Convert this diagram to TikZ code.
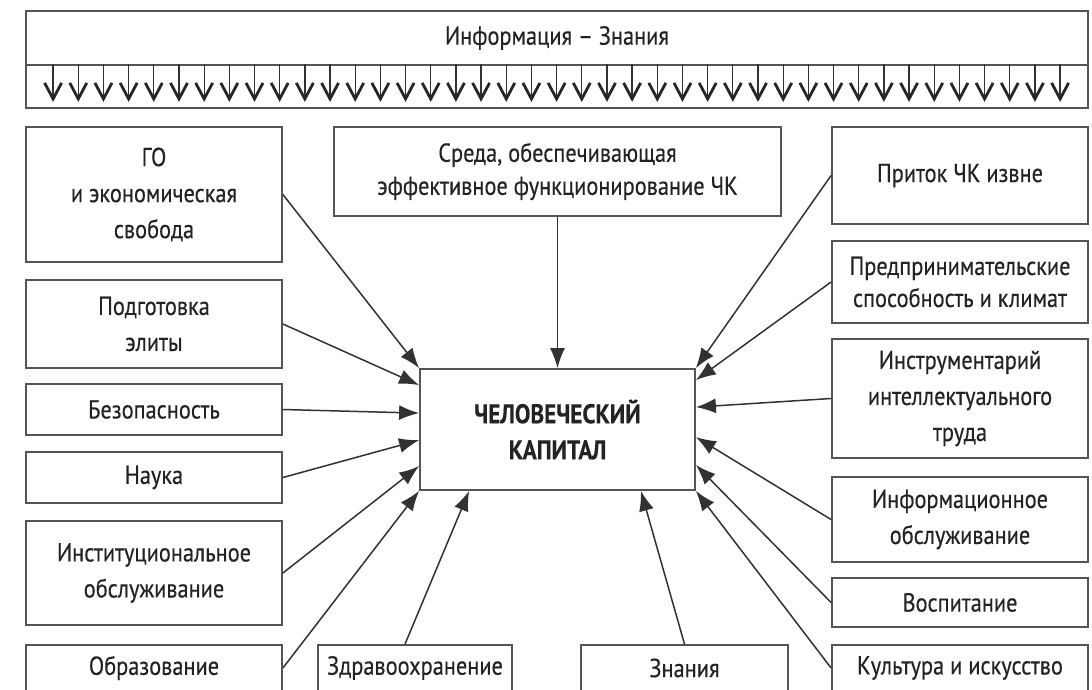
\documentclass[tikz,border=0pt]{standalone}
\usepackage{fontspec}
\setmainfont{PT Sans}[FakeStretch=0.86,FakeBold=0.35]
\usetikzlibrary{arrows.meta,calc}
\definecolor{boxgray}{RGB}{85,85,85}
\definecolor{linegray}{RGB}{50,50,50}
\definecolor{txtgray}{RGB}{35,35,35}
\begin{document}
\begin{tikzpicture}[x=1pt,y=-1pt,
  box/.style={draw=boxgray,line width=1.8pt,fill=white,inner sep=0pt,align=center,
    text=txtgray,font=\fontsize{26}{36}\selectfont},
  conn/.style={draw=linegray,line width=1.5pt,-{Latex[length=20pt,width=15pt]}},
  shaft/.style={draw=linegray,line width=1.3pt},
  vee/.style={draw=black!85,line width=2.8pt,line join=miter,line cap=butt}]
\useasboundingbox (0,0) rectangle (1092,689);
\fill[white] (0,0) rectangle (1092,689);
% banner
\node[box,minimum width=1062pt,minimum height=54pt] (info) at (557,38) {Информация – Знания};
\node[box,minimum width=1062pt,minimum height=43pt] (strip) at (557,86.5) {};
\foreach \i in {0,...,40}{
  \coordinate (t\i) at ([xshift={28pt+\i*25.175pt}]strip.north west);
  \coordinate (b\i) at ([xshift={28pt+\i*25.175pt},yshift=10pt]strip.south west);
  \draw[shaft] (t\i) -- (b\i);
  \draw[vee] ([xshift=-8.5pt,yshift=16pt]b\i) -- (b\i) -- ([xshift=8.5pt,yshift=16pt]b\i);
}
% left column
\node[box,minimum width=256pt,minimum height=135pt] (go) at (154,194.5) {ГО\\и экономическая\\свобода};
\node[box,minimum width=256pt,minimum height=88pt] (elite) at (154,324) {Подготовка\\элиты};
\node[box,minimum width=256pt,minimum height=51pt] (bez) at (154,409.5) {Безопасность};
\node[box,minimum width=256pt,minimum height=51pt] (nauka) at (154,477.5) {Наука};
\node[box,minimum width=256pt,minimum height=104pt] (inst) at (154,573) {Институциональное\\обслуживание};
\node[box,minimum width=256pt,minimum height=46pt] (obr) at (154,668) {Образование};
% right column
\node[box,minimum width=256pt,minimum height=97pt] (pritok) at (960,175.5) {Приток ЧК извне};
\node[box,minimum width=256pt,minimum height=82pt,font=\fontsize{26}{32}\selectfont] (pred) at (960,282) {Предпринимательские\\способность и климат};
\node[box,minimum width=256pt,minimum height=119pt] (instr) at (960,398.5) {Инструментарий\\интеллектуального\\труда};
\node[box,minimum width=256pt,minimum height=85pt] (inform) at (960,519.5) {Информационное\\обслуживание};
\node[box,minimum width=256pt,minimum height=49pt] (vosp) at (960,602.5) {Воспитание};
\node[box,minimum width=256pt,minimum height=46pt] (kult) at (960,668) {Культура и искусство};
% center
\node[box,minimum width=447pt,minimum height=89pt,font=\fontsize{26}{33}\selectfont] (sreda) at (557.5,171.5) {Среда, обеспечивающая\\эффективное функционирование ЧК};
\node[box,minimum width=275pt,minimum height=121pt,font=\fontsize{27}{36}\bfseries\selectfont] (hc) at (557.5,429.5) {ЧЕЛОВЕЧЕСКИЙ\\КАПИТАЛ};
% bottom
\node[box,minimum width=194pt,minimum height=46pt] (zdrav) at (415,668) {Здравоохранение};
\node[box,minimum width=207pt,minimum height=46pt] (zn) at (684.5,668) {Знания};
% connectors
\draw[conn] (sreda.south) -- (hc.north);
\draw[conn] (go.east) -- (hc.north west);
\draw[conn] (elite.east) -- ([yshift=-17pt]hc.north west);
\draw[conn] (bez.east) -- ([yshift=-45pt]hc.north west);
\draw[conn] (nauka.east) -- ([yshift=-72pt]hc.north west);
\draw[conn] (inst.east) -- ([yshift=-98pt]hc.north west);
\draw[conn] (obr.east) -- (hc.south west);
\draw[conn] ([xshift=-10pt]zdrav.north) -- ([xshift=50pt]hc.south west);
\draw[conn] (zn.north) -- ([xshift=-55pt]hc.south east);
\draw[conn] (kult.west) -- (hc.south east);
\draw[conn] (vosp.west) -- ([yshift=26pt]hc.south east);
\draw[conn] (inform.west) -- ([yshift=-69pt]hc.north east);
\draw[conn] (instr.west) -- ([yshift=-39pt]hc.north east);
\draw[conn] (pred.west) -- ([yshift=-12pt]hc.north east);
\draw[conn] (pritok.west) -- (hc.north east);
\end{tikzpicture}
\end{document}
